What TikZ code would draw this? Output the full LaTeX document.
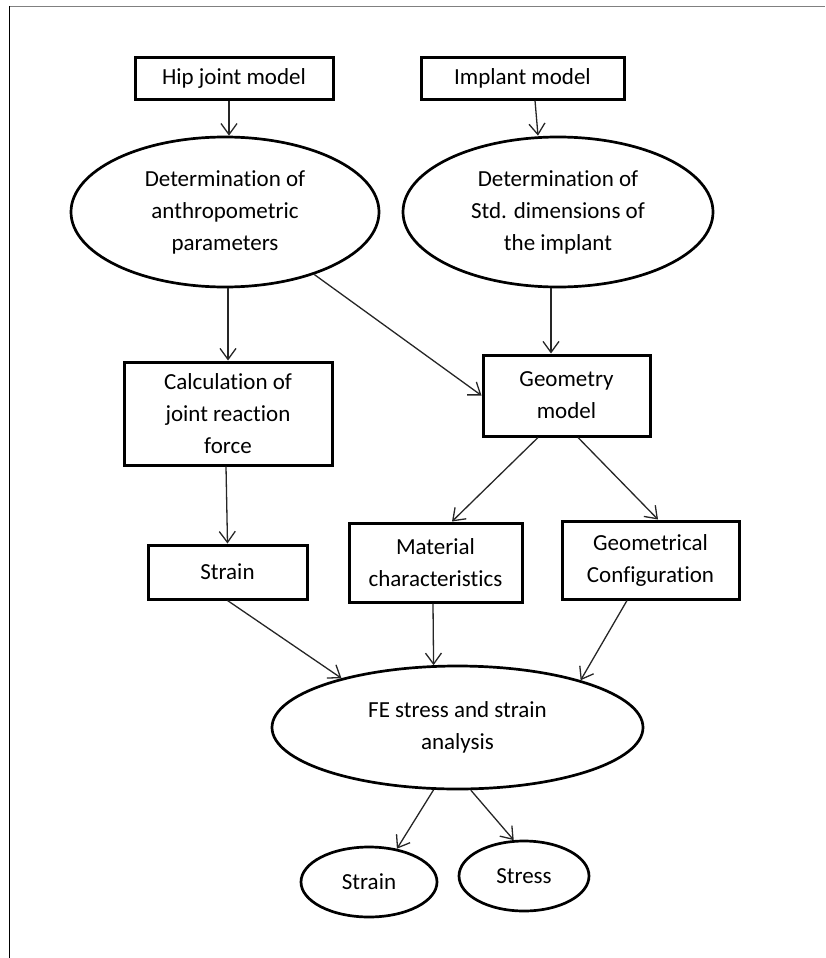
\documentclass[tikz,border=0pt]{standalone}
\usepackage{fontspec}
\setmainfont{Carlito}[Ligatures=NoCommon]
\usetikzlibrary{shapes.geometric,arrows.meta}
\begin{document}
\begin{tikzpicture}[x=1pt,y=-1pt,
  txt/.style={font=\fontsize{23}{32}\selectfont, align=center, text=black, inner sep=0pt},
  boxnode/.style={txt, draw=black, rectangle, line width=3pt},
  ellnode/.style={txt, draw=black, ellipse, line width=2.7pt},
  conn/.style={draw=black!85, line width=1.3pt, -{Straight Barb[length=11pt,width=16pt,line width=1.3pt]}}
]
\useasboundingbox (0,0) rectangle (825,958);
% frame
\draw[gray, line width=1.4pt] (9,6.5) -- (825,6.5);
\draw[black, line width=1pt] (9.5,6) -- (9.5,958);

% nodes
\node[boxnode, minimum width=198pt, minimum height=41pt] (hip) at (234,78.5) {Hip joint model};
\node[boxnode, minimum width=203pt, minimum height=41pt] (imp) at (522.5,78.5) {Implant model};
\node[ellnode, minimum width=308pt, minimum height=150pt] (e1) at (225,212) {Determination of\\anthropometric\\parameters};
\node[ellnode, minimum width=310pt, minimum height=150pt] (e2) at (558,212) {Determination of\\Std. dimensions of\\the implant};
\node[boxnode, minimum width=208pt, minimum height=103pt] (calc) at (228,413.5) {Calculation of\\joint reaction\\force};
\node[boxnode, minimum width=167pt, minimum height=81pt] (geo) at (566.5,395.5) {Geometry\\model};
\node[boxnode, minimum width=159pt, minimum height=54pt] (sb) at (227.5,572) {Strain};
\node[boxnode, minimum width=173pt, minimum height=79pt] (mat) at (435.5,562.5) {Material\\characteristics};
\node[boxnode, minimum width=177pt, minimum height=78pt] (conf) at (650.5,560) {Geometrical\\Configuration};
\node[ellnode, minimum width=371pt, minimum height=123pt] (fe) at (457.5,727.5) {FE stress and strain\\analysis};
\node[ellnode, minimum width=136pt, minimum height=70pt] (s1) at (369,882) {Strain};
\node[ellnode, minimum width=130pt, minimum height=70pt] (s2) at (524,876) {Stress};

% connectors
\draw[conn] ([xshift=-5pt]hip.south) -- ([xshift=4pt]e1.north);
\draw[conn] ([xshift=12.5pt]imp.south) -- ([xshift=-20pt]e2.north);
\draw[conn] ([xshift=3pt]e1.south) -- (calc.north);
\draw[conn] (e1.-35) -- (geo.west);
\draw[conn] ([xshift=-7pt]e2.south) -- ([xshift=-15.5pt]geo.north);
\draw[conn] ([xshift=-2pt]calc.south) -- (sb.north);
\draw[conn] ([xshift=-28.5pt]geo.south) -- ([xshift=16.5pt]mat.north);
\draw[conn] ([xshift=11.5pt]geo.south) -- ([xshift=7.5pt]conf.north);
\draw[conn] (sb.south) -- (fe.157);
\draw[conn] ([xshift=-2.5pt]mat.south) -- (fe.111);
\draw[conn] ([xshift=-23.5pt]conf.south) -- (fe.21);
\draw[conn] (fe.249) -- (s1.50);
\draw[conn] (fe.-78.5) -- (s2.106);
\end{tikzpicture}
\end{document}
